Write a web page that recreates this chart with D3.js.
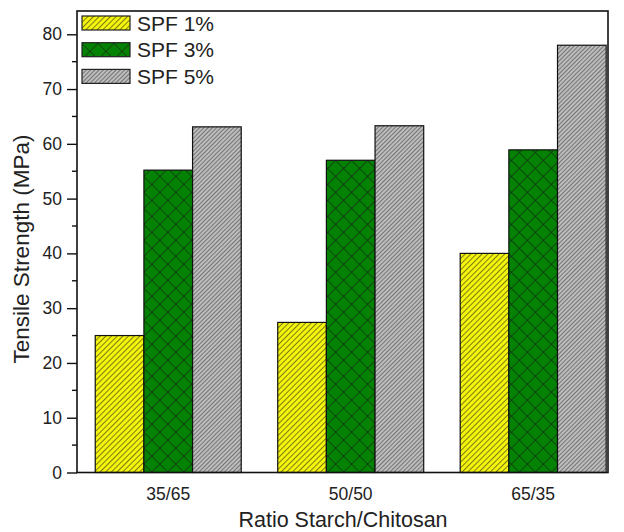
<!DOCTYPE html>
<html>
<head>
<meta charset="utf-8">
<script src="https://cdn.jsdelivr.net/npm/d3@7"></script>
<style>
  body { margin: 0; background: #fff; }
  text { font-family: "Liberation Sans", Arial, sans-serif; fill: #222; }
</style>
</head>
<body>
<div id="container"></div>
<script>
/* DATA */
const categories = ["35/65", "50/50", "65/35"];
const seriesNames = ["SPF 1%", "SPF 3%", "SPF 5%"];
const spf1 = [25.0, 27.4, 40.0];
const spf3 = [55.2, 57.0, 58.9];
const spf5 = [63.1, 63.3, 78.0];
const yTicks = [0, 10, 20, 30, 40, 50, 60, 70, 80];

const width = 624;
const height = 532;
const plot = { left: 77, right: 608, top: 11, bottom: 472.5 };

const svg = d3.select("#container")
  .append("svg")
  .attr("width", width)
  .attr("height", height);

/* PATTERNS */
const defs = svg.append("defs");

function hatch(id, bg, size, lw, cross) {
  const p = defs.append("pattern")
    .attr("id", id)
    .attr("patternUnits", "userSpaceOnUse")
    .attr("width", size)
    .attr("height", size)
    .attr("patternTransform", "rotate(45)");
  p.append("rect").attr("width", size).attr("height", size).attr("fill", bg);
  p.append("line")
    .attr("x1", 0).attr("y1", 0).attr("x2", 0).attr("y2", size)
    .attr("stroke", "#1a1a1a").attr("stroke-width", lw);
  if (cross) {
    p.append("line")
      .attr("x1", 0).attr("y1", 0).attr("x2", size).attr("y2", 0)
      .attr("stroke", "#1a1a1a").attr("stroke-width", lw);
  }
}
hatch("pat0", "#f4f40c", 4, 1.1, false);
hatch("pat1", "#038203", 11.3, 1.1, true);
hatch("pat2", "#bdbdbd", 3, 0.9, false);

/* SCALES */
const xScale = d3.scaleLinear()
  .domain([0.5, 3.41])
  .range([plot.left, plot.right]);

const sub = d3.scaleBand()
  .domain(seriesNames)
  .range([-0.4, 0.4]);

const yScale = d3.scaleLinear()
  .domain([0, 84.25])
  .range([plot.bottom, plot.top]);

/* BARS */
const series = [spf1, spf3, spf5];
series.forEach((vals, si) => {
  svg.append("g")
    .selectAll("rect")
    .data(vals)
    .join("rect")
    .attr("x", (d, i) => xScale(i + 1 + sub(seriesNames[si])))
    .attr("y", d => yScale(d))
    .attr("width", xScale(1 + sub.bandwidth()) - xScale(1))
    .attr("height", d => yScale(0) - yScale(d))
    .attr("fill", `url(#pat${si})`)
    .attr("stroke", "#111")
    .attr("stroke-width", 1.2);
});

/* FRAME */
svg.append("rect")
  .attr("x", plot.left)
  .attr("y", plot.top)
  .attr("width", plot.right - plot.left)
  .attr("height", plot.bottom - plot.top)
  .attr("fill", "none")
  .attr("stroke", "#111")
  .attr("stroke-width", 1.6);

/* Y AXIS */
const yAxis = svg.append("g")
  .attr("transform", `translate(${plot.left},0)`)
  .call(d3.axisLeft(yScale).tickValues(yTicks).tickSize(10).tickPadding(5));
yAxis.select(".domain").remove();
yAxis.selectAll(".tick line").attr("stroke", "#111").attr("stroke-width", 1.4);
yAxis.selectAll(".tick text")
  .style("font-size", "17.5px")
  .style("font-family", "'Liberation Sans', Arial, sans-serif")
  .attr("fill", "#222");

svg.append("g")
  .selectAll("line")
  .data(d3.range(5, 84, 10))
  .join("line")
  .attr("x1", plot.left - 5)
  .attr("x2", plot.left)
  .attr("y1", d => yScale(d))
  .attr("y2", d => yScale(d))
  .attr("stroke", "#111")
  .attr("stroke-width", 1.4);

svg.append("text")
  .attr("transform", "translate(29,249) rotate(-90)")
  .attr("text-anchor", "middle")
  .style("font-size", "22.5px")
  .text("Tensile Strength (MPa)");

/* X AXIS LABELS */
svg.append("g")
  .selectAll("text")
  .data(categories)
  .join("text")
  .attr("x", (d, i) => xScale(i + 1))
  .attr("y", 500)
  .attr("text-anchor", "middle")
  .style("font-size", "17.5px")
  .text(d => d);

svg.append("text")
  .attr("x", 343)
  .attr("y", 527)
  .attr("text-anchor", "middle")
  .style("font-size", "21.5px")
  .text("Ratio Starch/Chitosan");

/* LEGEND */
const legend = svg.append("g")
  .selectAll("g")
  .data(seriesNames)
  .join("g")
  .attr("transform", (d, i) => `translate(82,${16 + i * 26.7})`);

legend.append("rect")
  .attr("width", 48)
  .attr("height", 14)
  .attr("fill", (d, i) => `url(#pat${i})`)
  .attr("stroke", "#222")
  .attr("stroke-width", 1.2);

legend.append("text")
  .attr("x", 55)
  .attr("y", 14.5)
  .style("font-size", "21px")
  .text(d => d);
</script>
</body>
</html>
